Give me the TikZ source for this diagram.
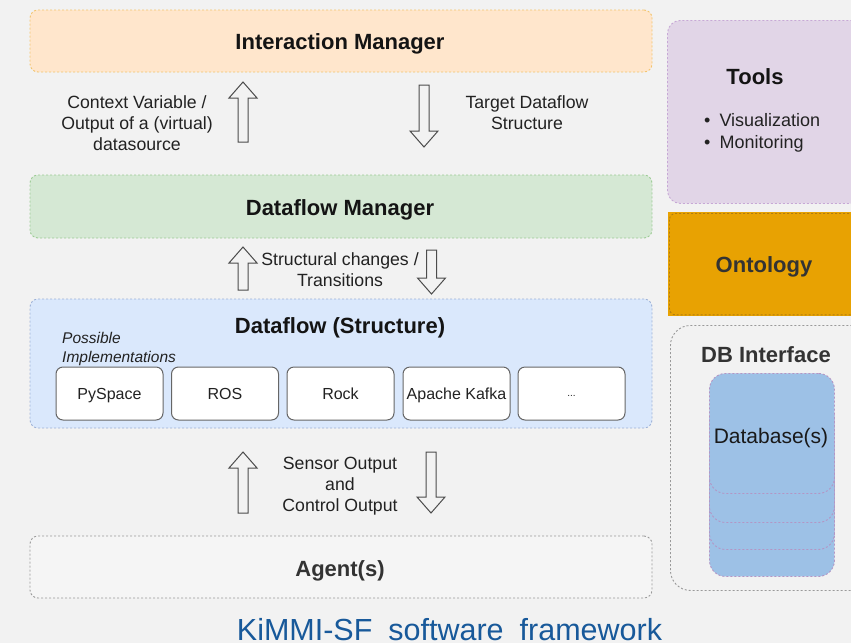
\documentclass[tikz,border=0pt]{standalone}
\usepackage{fontspec}
\setmainfont{Liberation Sans}

\definecolor{kmbg}{HTML}{F2F2F2}
\definecolor{imfill}{HTML}{FFE6CC}
\definecolor{imline}{HTML}{F2C46D}
\definecolor{dmfill}{HTML}{D5E8D4}
\definecolor{dmline}{HTML}{9CCB94}
\definecolor{dffill}{HTML}{DAE8FC}
\definecolor{dfline}{HTML}{9DB1D6}
\definecolor{agfill}{HTML}{F5F5F5}
\definecolor{agline}{HTML}{9A9A9A}
\definecolor{tlfill}{HTML}{E1D5E7}
\definecolor{tlline}{HTML}{C7A8D6}
\definecolor{onfill}{HTML}{E8A202}
\definecolor{online}{HTML}{B07D10}
\definecolor{dbfill}{HTML}{9DC1E6}
\definecolor{dbline}{HTML}{B495C4}
\definecolor{capblue}{HTML}{18599A}
\definecolor{txt}{HTML}{222222}

\newcommand\kmHead{\fontsize{22}{26}\selectfont\bfseries}
\newcommand\kmBody{\fontsize{17.7}{21}\selectfont}
\newcommand\kmImpl{\fontsize{16}{19}\selectfont}
\newcommand\kmItal{\fontsize{15.5}{19}\selectfont\itshape}
\newcommand\kmCap{\fontsize{30.5}{34}\selectfont}

\tikzset{
  lbl/.style={inner sep=0pt, text=txt, font=\kmBody, align=center},
  head/.style={inner sep=0pt, text=black!92, font=\kmHead},
  dashline/.style={line width=0.9pt, dash pattern=on 2pt off 2pt},
  layer/.style={dashline, rounded corners=8pt, minimum width=622pt, inner sep=0pt},
  impl/.style={draw=black!60, fill=white, rounded corners=7pt, line width=1pt,
    minimum width=107pt, minimum height=53pt, inner sep=0pt, text=txt, font=\kmImpl,
    text height=12pt, text depth=0pt},
  blk/.style={draw=black!70, line width=1pt, fill=kmbg, line join=miter},
  dbbox/.style={dashline, draw=dbline, fill=dbfill, rounded corners=16pt,
    minimum width=125pt, minimum height=120pt, anchor=north west, inner sep=0pt},
  uparr/.pic={\path[blk] (-5,0) -- (5,0) -- (5,16-#1) -- (14,16-#1) -- (0,-#1)
    -- (-14,16-#1) -- (-5,16-#1) -- cycle;},
  downarr/.pic={\path[blk] (-5,0) -- (5,0) -- (5,#1-16) -- (14,#1-16) -- (0,#1)
    -- (-14,#1-16) -- (-5,#1-16) -- cycle;},
}

\begin{document}
\begin{tikzpicture}[x=1pt,y=-1pt]
\path[use as bounding box] (0,0) rectangle (851,643);
\clip (0,0) rectangle (851,643);
\fill[kmbg] (0,0) rectangle (851,643);

% ---------- layers ----------
\node[layer, fill=imfill, draw=imline, minimum height=62pt] (im) at (341,41) {};
\node[layer, fill=dmfill, draw=dmline, minimum height=63pt] (dm) at (341,206.5) {};
\node[layer, fill=dffill, draw=dfline, minimum height=129pt] (df) at (341,363.5) {};
\node[layer, fill=agfill, draw=agline, minimum height=62pt] (ag) at (341,567) {};

\node[head, anchor=base] (imt) at (340,49) {Interaction Manager};
\node[head, anchor=base] (dmt) at (340,215) {Dataflow Manager};
\node[head, anchor=base] (dftitle) at (340,333) {Dataflow (Structure)};
\node[head, anchor=base, text=black!80] (agt) at (340,576) {Agent(s)};
\node[inner sep=0pt, text=txt, font=\kmItal, align=left, anchor=west] (poss) at (62,348.5)
  {Possible\\Implementations};

% ---------- implementations ----------
\node[impl] (pyspace) at (109.5,393.5) {PySpace};
\node[impl] (ros)     at (225,393.5)   {ROS};
\node[impl] (rock)    at (340.5,393.5) {Rock};
\node[impl] (kafka)   at (456.5,393.5) {Apache Kafka};
\node[impl, font=\fontsize{10}{12}\selectfont, text height=5pt] (more) at (571.5,393.5) {...};

% ---------- block arrows between layers ----------
\pic (up1) at (243,142) {uparr=60};
\pic (dn1) at (424,85) {downarr=62};
\pic (up2) at (243,290) {uparr=43};
\pic (dn2) at (431.5,250) {downarr=44};
\pic (up3) at (243,513) {uparr=61};
\pic (dn3) at (431,452) {downarr=61};

\node[lbl] (ctx) at (137,123) {Context Variable /\\Output of a (virtual)\\datasource};
\node[lbl] (tgt) at (527,113) {Target Dataflow\\Structure};
\node[lbl] (trans) at (340,270) {Structural changes /\\Transitions};
\node[lbl] (sens) at (340,486.5) {Sensor Output\\and\\Control Output};

% ---------- right column ----------
\node[dashline, draw=tlline, fill=tlfill, rounded corners=13pt, anchor=north west,
  minimum width=210pt, minimum height=183pt] (tools) at (667,20) {};
\node[head, anchor=base] (toolst) at (755,84) {Tools};
\node[inner sep=0pt, text=txt, font=\fontsize{18}{22}\selectfont, anchor=base west] (vis) at (704,126)
  {\textbullet\hspace{9pt}Visualization};
\node[inner sep=0pt, text=txt, font=\fontsize{18}{22}\selectfont, anchor=base west] (mon) at (704,148)
  {\textbullet\hspace{9pt}Monitoring};

\node[fill=onfill, anchor=north west, minimum width=210pt, minimum height=104pt,
  inner sep=0pt] (onto) at (668,212) {};
\draw[dashline, draw=online, rounded corners=6pt]
  ([xshift=1.5pt,yshift=-1.5pt]onto.north west) rectangle ([xshift=-1.5pt,yshift=1.5pt]onto.south east);
\node[head, anchor=base, text=black!80] (ontot) at (764,272) {Ontology};

\node[dashline, draw=agline, rounded corners=20pt, anchor=north west,
  minimum width=210pt, minimum height=265pt] (dbi) at (670,325) {};
\node[head, anchor=base, text=black!80] (dbit) at (766,362) {DB Interface};

\node[dbbox] (db4) at (709,456) {};
\node[dbbox] (db3) at (709,429) {};
\node[dbbox] (db2) at (709,402) {};
\node[dbbox] (db1) at (709,373) {};
\node[inner sep=0pt, text=black!90, font=\fontsize{21}{25}\selectfont, anchor=base] (dbt) at (771,443) {Database(s)};

% ---------- caption ----------
\node[inner sep=0pt, text=capblue, font=\kmCap, anchor=base] (cap) at (449.5,640)
  {KiMMI-SF\hspace{16pt}software\hspace{16pt}framework};
\end{tikzpicture}
\end{document}
